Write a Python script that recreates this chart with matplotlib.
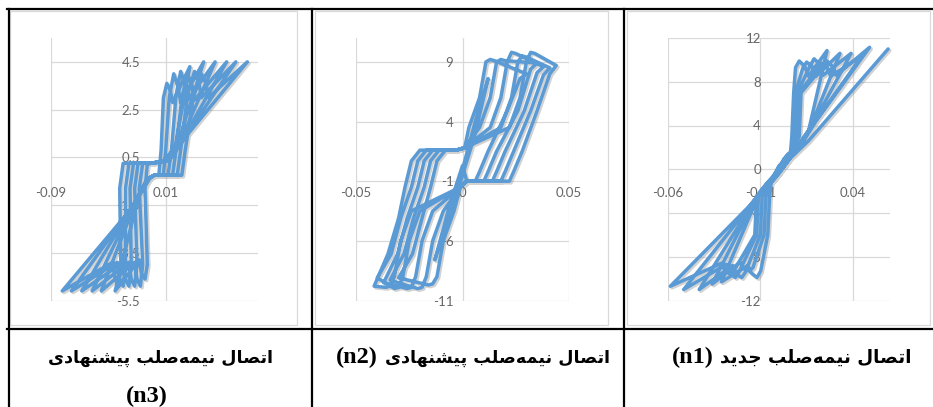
import numpy as np
import matplotlib
matplotlib.use("Agg")
import matplotlib.pyplot as plt
from matplotlib.lines import Line2D
from matplotlib.patches import Rectangle
import matplotlib.patheffects as pe

plt.rcParams["axes.unicode_minus"] = False

# ---------------- data ----------------
# panel n3 (left cell)
n3_xticks = [-0.09, 0.01]
n3_xlabels = ["-0.09", "0.01"]
n3_yticks = [-5.5, -3.5, -1.5, 0.5, 2.5, 4.5]
n3_ylabels = ["-5.5", "-3.5", "-1.5", "0.5", "2.5", "4.5"]
n3_points = [
    (0.000, -0.25), (0.004, -0.25), (0.006, 0.8), (0.008, 3.0), (0.011, 3.6), (0.014, 3.3), (0.016, 2.8),
    (0.031, 4.3), (0.018, 0.9), (0.008, 0.35), (-0.003, 0.25), (-0.006, 0.2), (-0.008, -0.8), (-0.006, -4.0),
    (-0.008, -4.6), (-0.011, -4.4), (-0.013, -3.8), (-0.034, -5.1), (-0.014, -1.2), (-0.004, -0.4),
    (0.000, -0.25), (0.008, -0.25), (0.010, 0.8), (0.013, 3.0), (0.017, 4.0), (0.021, 3.4), (0.023, 2.8),
    (0.043, 4.5), (0.020, 1.0), (0.009, 0.35), (-0.003, 0.25), (-0.010, 0.25), (-0.013, -0.8), (-0.010, -4.0),
    (-0.012, -4.9), (-0.015, -4.6), (-0.017, -3.9), (-0.046, -5.1), (-0.015, -1.2), (-0.005, -0.4),
    (0.000, -0.25), (0.012, -0.25), (0.015, 0.8), (0.019, 3.1), (0.023, 4.1), (0.027, 3.5), (0.029, 2.9),
    (0.053, 4.5), (0.022, 1.1), (0.010, 0.35), (-0.003, 0.25), (-0.014, 0.25), (-0.017, -0.8), (-0.015, -4.0),
    (-0.017, -4.9), (-0.020, -4.6), (-0.022, -3.9), (-0.054, -5.1), (-0.016, -1.3), (-0.005, -0.4),
    (0.000, -0.25), (0.016, -0.25), (0.019, 0.8), (0.024, 3.0), (0.029, 4.0), (0.033, 3.5), (0.035, 2.9),
    (0.063, 4.5), (0.024, 1.2), (0.011, 0.35), (-0.003, 0.25), (-0.018, 0.25), (-0.021, -0.8), (-0.020, -4.0),
    (-0.022, -4.9), (-0.025, -4.6), (-0.027, -3.9), (-0.063, -5.1), (-0.017, -1.4), (-0.006, -0.4),
    (0.000, -0.25), (0.020, -0.25), (0.023, 0.8), (0.029, 3.1), (0.035, 4.1), (0.039, 3.6), (0.041, 3.0),
    (0.071, 4.5), (0.026, 1.3), (0.012, 0.35), (-0.003, 0.25), (-0.022, 0.25), (-0.025, -0.8), (-0.025, -4.0),
    (-0.027, -4.9), (-0.030, -4.6), (-0.032, -3.9), (-0.072, -5.1), (-0.018, -1.5), (-0.006, -0.4),
    (0.000, -0.25), (0.024, -0.25), (0.027, 0.8), (0.034, 3.0), (0.041, 4.0), (0.045, 3.6), (0.047, 3.0),
    (0.081, 4.5), (0.028, 1.4), (0.013, 0.35), (-0.003, 0.25), (-0.027, 0.25), (-0.030, -0.8), (-0.029, -4.0),
    (-0.031, -4.9), (-0.034, -4.6), (-0.036, -3.9), (-0.080, -5.1), (-0.019, -1.6), (-0.006, -0.4),
]

# panel n2 (middle cell)
n2_xticks = [-0.05, 0.0, 0.05]
n2_xlabels = ["-0.05", "0", "0.05"]
n2_yticks = [-11, -6, -1, 4, 9]
n2_ylabels = ["-11", "-6", "-1", "4", "9"]
n2_points = [
    (0.000, 0.0), (0.006, 4.0), (0.012, 7.6), (0.006, 3.0), (0.000, -0.5), (-0.007, -4.5), (-0.013, -7.6),
    (-0.006, -3.0), (0.000, 0.3),
    (0.002, -1.0), (0.006, -1.0), (0.008, -0.2), (0.012, 1.5), (0.021, 4.9), (0.027, 7.6), (0.030, 8.0),
    (0.015, 9.1), (0.013, 9.2), (0.011, 9.0), (0.008, 6.0), (0.003, 3.5), (0.001, 1.8), (-0.003, 1.6),
    (-0.008, 1.6), (-0.012, 0.7), (-0.015, -1.5), (-0.019, -4.1), (-0.0235, -7.1), (-0.030, -9.1),
    (-0.016, -9.7), (-0.014, -9.6), (-0.012, -9.0), (-0.009, -6.0), (-0.004, -3.5), (-0.001, -1.5),
    (0.002, -1.0), (0.010, -1.0), (0.012, -0.2), (0.016, 1.5), (0.026, 4.9), (0.032, 8.4), (0.035, 8.9),
    (0.020, 9.1), (0.018, 9.2), (0.016, 9.0), (0.013, 6.0), (0.008, 3.5), (0.001, 1.8), (-0.003, 1.6),
    (-0.011, 1.6), (-0.015, 0.7), (-0.018, -1.5), (-0.023, -4.1), (-0.0275, -7.1), (-0.034, -9.3),
    (-0.021, -10.0), (-0.019, -9.9), (-0.017, -9.0), (-0.014, -6.0), (-0.009, -3.5), (-0.001, -1.5),
    (0.002, -1.0), (0.014, -1.0), (0.016, -0.2), (0.020, 1.5), (0.029, 4.9), (0.035, 8.1), (0.038, 8.6),
    (0.025, 9.7), (0.023, 9.8), (0.021, 9.0), (0.018, 6.0), (0.013, 3.5), (0.001, 1.8), (-0.003, 1.6),
    (-0.014, 1.6), (-0.018, 0.7), (-0.021, -1.5), (-0.026, -4.1), (-0.0305, -7.1), (-0.037, -9.5),
    (-0.026, -10.0), (-0.024, -9.9), (-0.022, -9.0), (-0.019, -6.0), (-0.014, -3.5), (-0.001, -1.5),
    (0.002, -1.0), (0.018, -1.0), (0.020, -0.2), (0.024, 1.5), (0.032, 4.9), (0.038, 7.9), (0.041, 8.5),
    (0.030, 9.4), (0.028, 9.5), (0.026, 9.0), (0.023, 6.0), (0.018, 3.5), (0.001, 1.8), (-0.003, 1.6),
    (-0.017, 1.6), (-0.021, 0.7), (-0.024, -1.5), (-0.029, -4.1), (-0.0335, -7.1), (-0.040, -9.1),
    (-0.032, -10.0), (-0.030, -9.9), (-0.028, -9.0), (-0.025, -6.0), (-0.020, -3.5), (-0.001, -1.5),
    (0.002, -1.0), (0.022, -1.0), (0.024, -0.2), (0.028, 1.5), (0.035, 4.9), (0.041, 8.0), (0.044, 8.7),
    (0.034, 9.7), (0.032, 9.8), (0.030, 9.0), (0.027, 6.0), (0.022, 3.5), (0.001, 1.8), (-0.003, 1.6),
    (-0.020, 1.6), (-0.024, 0.7), (-0.027, -1.5), (-0.030, -4.1), (-0.035, -7.1), (-0.0415, -9.8),
    (-0.036, -9.9), (-0.034, -9.8), (-0.032, -9.0), (-0.029, -6.0), (-0.024, -3.5), (-0.001, -1.5),
    (0.002, -1.0),
]

# panel n1 (right cell)
n1_xticks = [-0.06, -0.01, 0.04]
n1_xlabels = ["-0.06", "-0.01", "0.04"]
n1_yticks = [-12, -8, -4, 0, 4, 8, 12]
n1_ylabels = ["-12", "-8", "-4", "0", "4", "8", "12"]
n1_points = [
    (0.000, 0.0), (0.006, 1.0), (0.007, 3.0), (0.008, 7.0), (0.009, 9.3), (0.011, 9.9), (0.014, 9.4),
    (0.016, 8.5), (0.026, 10.85), (0.016, 3.5), (0.008, 1.6), (0.000, 0.3), (-0.004, -1.0), (-0.005, -2.5),
    (-0.006, -6.0), (-0.0098, -9.3), (-0.0118, -9.9), (-0.0148, -9.5), (-0.0168, -8.8), (-0.031, -10.3),
    (-0.010, -2.0), (-0.006, -1.2),
    (0.000, -0.4), (0.006, 1.0), (0.008, 3.0), (0.009, 7.0), (0.013, 9.3), (0.015, 9.8), (0.018, 9.4),
    (0.020, 8.5), (0.033, 10.6), (0.017, 3.8), (0.009, 1.8), (0.002, 0.6), (-0.004, -1.0), (-0.007, -2.5),
    (-0.008, -6.0), (-0.014, -9.0), (-0.016, -9.3), (-0.019, -9.1), (-0.021, -8.5), (-0.036, -10.5),
    (-0.012, -2.5), (-0.007, -1.5),
    (-0.002, -0.8), (0.006, 1.0), (0.009, 3.0), (0.010, 7.0), (0.017, 9.5), (0.019, 10.1), (0.022, 9.6),
    (0.024, 8.6), (0.039, 10.6), (0.018, 4.0), (0.010, 2.0), (0.003, 1.0), (-0.004, -1.0), (-0.009, -2.5),
    (-0.010, -6.0), (-0.018, -9.4), (-0.020, -9.9), (-0.023, -9.6), (-0.025, -8.8), (-0.043, -11.0),
    (-0.013, -2.8), (-0.008, -1.8),
    (-0.003, -1.0), (0.006, 1.0), (0.010, 3.0), (0.011, 7.0), (0.021, 9.2), (0.023, 9.7), (0.026, 9.3),
    (0.028, 8.5), (0.045, 10.4), (0.019, 4.2), (0.011, 2.1), (0.004, 1.2), (-0.004, -1.0), (-0.011, -2.5),
    (-0.012, -6.0), (-0.0215, -9.4), (-0.0235, -9.9), (-0.0265, -9.5), (-0.0285, -8.7), (-0.0514, -11.0),
    (-0.014, -3.0), (-0.009, -2.0),
    (-0.004, -1.2), (0.006, 1.0), (0.011, 3.0), (0.012, 7.0), (0.024, 9.4), (0.026, 9.9), (0.029, 9.4),
    (0.031, 8.6), (0.049, 11.15), (0.020, 4.4), (0.012, 2.2), (0.005, 1.4), (-0.004, -1.0), (-0.012, -2.5),
    (-0.013, -6.0), (-0.024, -9.2), (-0.026, -9.6), (-0.029, -9.3), (-0.031, -8.6), (-0.0586, -10.7),
    (-0.015, -3.2), (-0.006, -1.2),
    (0.000, 0.0), (0.016, 2.6), (0.059, 11.0),
]

captions = ["اتصال نیمه\u200cصلب پیشنهادی", "اتصال نیمه\u200cصلب پیشنهادی", "اتصال نیمه\u200cصلب جدید"]
codes = ["(n3)", "(n2)", "(n1)"]

# ---------------- helpers ----------------
FORMS = {
    "ا": ("\uFE8D", "\uFE8E", None, None),
    "ب": ("\uFE8F", "\uFE90", "\uFE91", "\uFE92"),
    "ت": ("\uFE95", "\uFE96", "\uFE97", "\uFE98"),
    "ج": ("\uFE9D", "\uFE9E", "\uFE9F", "\uFEA0"),
    "د": ("\uFEA9", "\uFEAA", None, None),
    "ش": ("\uFEB5", "\uFEB6", "\uFEB7", "\uFEB8"),
    "ص": ("\uFEB9", "\uFEBA", "\uFEBB", "\uFEBC"),
    "ل": ("\uFEDD", "\uFEDE", "\uFEDF", "\uFEE0"),
    "م": ("\uFEE1", "\uFEE2", "\uFEE3", "\uFEE4"),
    "ن": ("\uFEE5", "\uFEE6", "\uFEE7", "\uFEE8"),
    "ه": ("\uFEE9", "\uFEEA", "\uFEEB", "\uFEEC"),
    "پ": ("\uFB56", "\uFB57", "\uFB58", "\uFB59"),
    "ی": ("\uFBFC", "\uFBFD", "\uFBFE", "\uFBFF"),
}


def rtl(s):
    out = []
    for k, c in enumerate(s):
        if c not in FORMS:
            if c != "\u200c":
                out.append(c)
            continue
        prev = s[k - 1] if k > 0 else None
        nxt = s[k + 1] if k + 1 < len(s) else None
        jp = prev in FORMS and FORMS[prev][2] is not None
        jn = nxt in FORMS and FORMS[c][2] is not None
        f = FORMS[c]
        if jp and jn:
            g = f[3]
        elif jp:
            g = f[1]
        elif jn:
            g = f[2]
        else:
            g = f[0]
        out.append(g)
    return "".join(reversed(out))


W, H = 933, 407
fig = plt.figure(figsize=(W / 100, H / 100), dpi=100)


def fx(px):
    return px / W


def fy(py):
    return 1 - py / H


LINE = "#5B9BD5"
GRID = "#D9D9D9"
TICKC = "#666666"
TOP, BOT = 38.0, 300.5

panels = [
    dict(pts=n3_points, xlim=(-0.09, 0.09), ylim=(-5.5, 5.5), xt=n3_xticks, xl=n3_xlabels,
         yt=n3_yticks, yl=n3_ylabels, px=(50.7, 257.7), ygap=14, frame=(10, 297)),
    dict(pts=n2_points, xlim=(-0.05, 0.05), ylim=(-11, 11), xt=n2_xticks, xl=n2_xlabels,
         yt=n2_yticks, yl=n2_ylabels, px=(356.0, 569.0), ygap=9, frame=(315, 608)),
    dict(pts=n1_points, xlim=(-0.06, 0.06), ylim=(-12, 12), xt=n1_xticks, xl=n1_xlabels,
         yt=n1_yticks, yl=n1_ylabels, px=(667.7, 890.0), ygap=18, frame=(627, 930)),
]

for p in panels:
    fx0, fx1 = p["frame"]
    fig.add_artist(Rectangle((fx(fx0), fy(325)), fx(fx1) - fx(fx0), fy(11) - fy(325),
                             transform=fig.transFigure, fill=False, ec=GRID, lw=0.9))
    l, r = p["px"]
    ax = fig.add_axes([fx(l), fy(BOT), fx(r) - fx(l), fy(TOP) - fy(BOT)])
    ax.set_facecolor("none")
    ax.set_xlim(*p["xlim"])
    ax.set_ylim(*p["ylim"])
    ax.set_xticks(p["xt"])
    ax.set_xticklabels(p["xl"])
    ax.set_yticks(p["yt"])
    ax.set_yticklabels(p["yl"])
    for s in ax.spines.values():
        s.set_visible(False)
    ax.spines["left"].set_position(("data", 0))
    ax.spines["bottom"].set_position(("data", 0))
    ax.grid(True, color=GRID, lw=0.9)
    ax.set_axisbelow(True)
    ax.tick_params(axis="both", length=0, colors=TICKC, labelsize=9.5)
    ax.tick_params(axis="x", pad=13.0)
    ax.tick_params(axis="y", pad=p["ygap"] * 0.72)
    for t in ax.get_xticklabels() + ax.get_yticklabels():
        t.set_fontfamily("Lato")
    arr = np.array(p["pts"])
    ax.plot(arr[:, 0], arr[:, 1], color=LINE, lw=2.5, solid_joinstyle="round",
            solid_capstyle="round", clip_on=False,
            path_effects=[pe.SimpleLineShadow(offset=(1.2, -1.2), shadow_color="#7f7f7f", alpha=0.35),
                          pe.Normal()])

# table lines
tl = dict(color="black", lw=1.6, transform=fig.transFigure)
fig.add_artist(Line2D([fx(7.5), 1], [fy(9), fy(9)], **tl))
fig.add_artist(Line2D([fx(7.5), 1], [fy(329), fy(329)], **tl))
for xv in (8.5, 312, 624):
    fig.add_artist(Line2D([fx(xv), fx(xv)], [fy(8.5), 0], **tl))

# captions
afont = dict(family=["DejaVu Sans"], weight="bold", va="baseline", color="black")
lfont = dict(family=["Liberation Serif"], weight="bold", fontsize=17.5, va="baseline", color="black")
BASE = 363
fig.text(fx(160.5), fy(BASE), rtl(captions[0]), ha="center", fontsize=12.6, **afont)
fig.text(fx(146.5), fy(402), codes[0], ha="center", **lfont)
t2 = fig.text(fx(610), fy(BASE), rtl(captions[1]), ha="right", fontsize=12.6, **afont)
t1 = fig.text(fx(912), fy(BASE), rtl(captions[2]), ha="right", fontsize=13.2, **afont)

renderer = fig.canvas.get_renderer()
for t, code in ((t2, codes[1]), (t1, codes[2])):
    bb = t.get_window_extent(renderer)
    left_px = bb.x0 - 7
    fig.text(left_px / W, fy(BASE), code, ha="right", **lfont)

fig.savefig("out.png", dpi=100)
